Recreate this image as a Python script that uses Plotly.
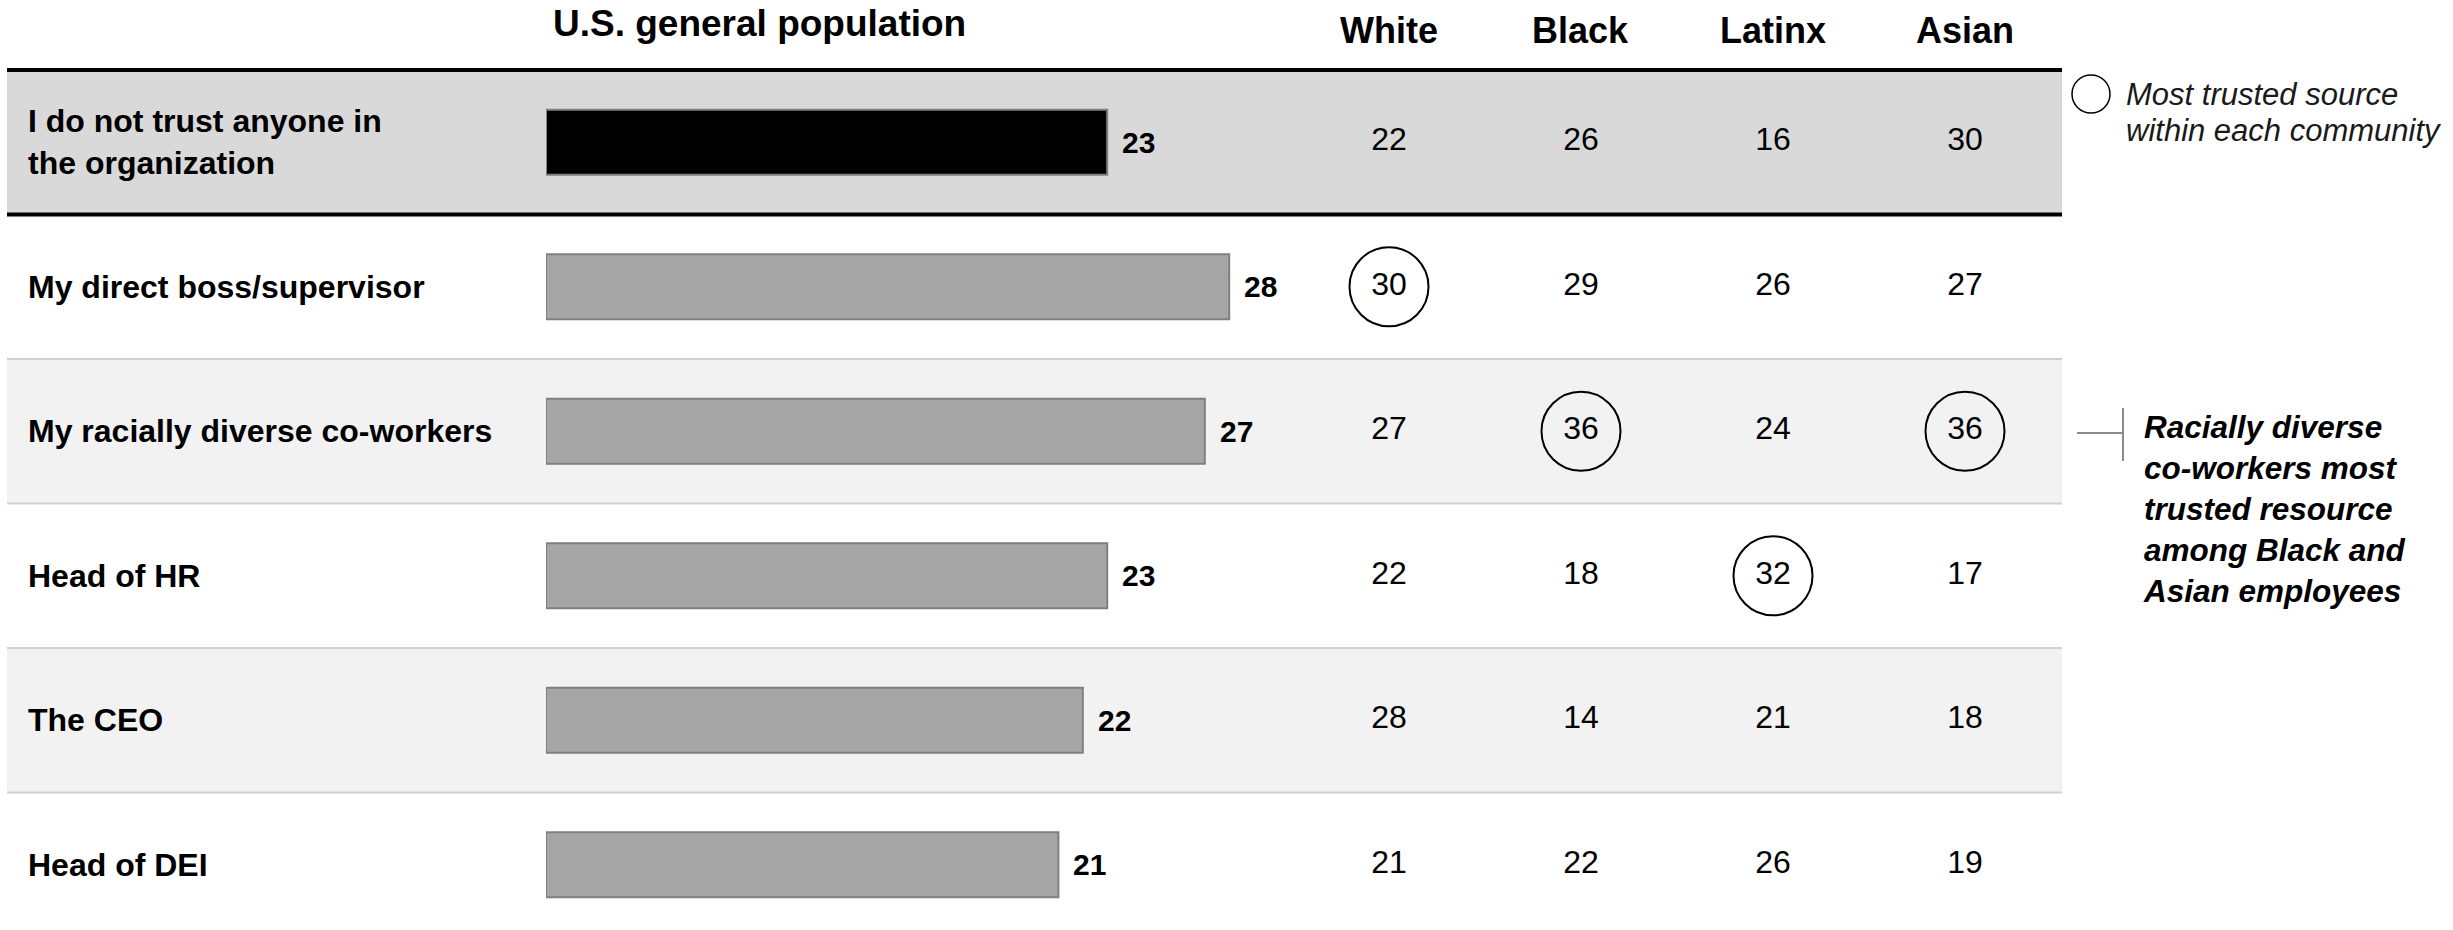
import plotly.graph_objects as go

# ---- data -------------------------------------------------------------
sources = [
    "I do not trust anyone in<br>the organization",
    "My direct boss/supervisor",
    "My racially diverse co-workers",
    "Head of HR",
    "The CEO",
    "Head of DEI",
]
general_population = [23, 28, 27, 23, 22, 21]

groups = ["White", "Black", "Latinx", "Asian"]
white = [22, 30, 27, 22, 28, 21]
black = [26, 29, 36, 18, 14, 22]
latinx = [16, 26, 24, 32, 21, 26]
asian = [30, 27, 36, 17, 18, 19]
group_values = [white, black, latinx, asian]

# ---- page geometry (pixels) --------------------------------------------
W, H = 2453, 930
ROW_TOP = 70          # top rule of the table
ROW_H = 144.5         # height of one row
TABLE_L, TABLE_R = 7, 2062
BAR_L, BAR_R = 546, 1290
PX_PER_UNIT = 24.4
COL_L, COL_R = 1293, 2061

FONT = "Arial, Liberation Sans, Helvetica, sans-serif"


def px_x(p):
    return p / W


def px_y(p):
    return 1 - p / H


n = len(sources)
rows = list(range(n))
y_top = -ROW_TOP / ROW_H - 0.5
y_bot = (H - ROW_TOP) / ROW_H - 0.5

fig = go.Figure()

# general-population bars
bar_colors = ["#000000"] + ["#a6a6a6"] * (n - 1)
fig.add_trace(go.Bar(
    x=general_population, y=rows, orientation="h",
    width=0.45,
    marker=dict(color=bar_colors, line=dict(color="#7f7f7f", width=2)),
    xaxis="x", yaxis="y", hoverinfo="skip", showlegend=False,
))

# per-community values
cell_x, cell_y, cell_t = [], [], []
for g, vals in zip(groups, group_values):
    for r, v in enumerate(vals):
        cell_x.append(g)
        cell_y.append(r)
        cell_t.append(str(v))
fig.add_trace(go.Scatter(
    x=cell_x, y=cell_y, text=cell_t, mode="text",
    textfont=dict(family=FONT, size=32, color="#000000"),
    xaxis="x2", yaxis="y", hoverinfo="skip", showlegend=False,
))

# ring round the most trusted source of each community (named sources only)
ring_x, ring_y = [], []
for g, vals in zip(groups, group_values):
    best = max(vals[1:])
    ring_x.append(g)
    ring_y.append(vals.index(best, 1))
fig.add_trace(go.Scatter(
    x=ring_x, y=ring_y, mode="markers",
    marker=dict(symbol="circle-open", size=79, color="#000000",
                line=dict(width=2, color="#000000")),
    xaxis="x2", yaxis="y", hoverinfo="skip", showlegend=False,
))

shapes = []
# row shading
for r in rows:
    fill = "#d9d9d9" if r == 0 else ("#f2f2f2" if r % 2 == 0 else None)
    if fill:
        shapes.append(dict(type="rect", xref="paper", yref="y",
                           x0=px_x(TABLE_L), x1=px_x(TABLE_R),
                           y0=r - 0.5, y1=r + 0.5,
                           fillcolor=fill, line=dict(width=0), layer="below"))
# thin separators
for r in range(1, n - 1):
    shapes.append(dict(type="line", xref="paper", yref="y",
                       x0=px_x(TABLE_L), x1=px_x(TABLE_R),
                       y0=r + 0.5, y1=r + 0.5,
                       line=dict(color="#d0d0d0", width=2), layer="below"))
# heavy rules around the first row
for yy in (-0.5, 0.5):
    shapes.append(dict(type="line", xref="paper", yref="y",
                       x0=px_x(TABLE_L), x1=px_x(TABLE_R),
                       y0=yy, y1=yy,
                       line=dict(color="#000000", width=4)))
# legend ring
shapes.append(dict(type="circle", xref="paper", yref="paper",
                   xsizemode="pixel", ysizemode="pixel",
                   xanchor=px_x(2091), yanchor=px_y(94),
                   x0=-19, x1=19, y0=-19, y1=19,
                   line=dict(color="#000000", width=1.5)))
# callout bracket
shapes.append(dict(type="line", xref="paper", yref="paper",
                   x0=px_x(2077), x1=px_x(2123), y0=px_y(433), y1=px_y(433),
                   line=dict(color="#8c8c8c", width=2)))
shapes.append(dict(type="line", xref="paper", yref="paper",
                   x0=px_x(2123), x1=px_x(2123), y0=px_y(408), y1=px_y(461),
                   line=dict(color="#8c8c8c", width=2)))

ann = []
# row labels
for r, s in enumerate(sources):
    ann.append(dict(text=f"<b>{s}</b>", xref="paper", yref="y",
                    x=px_x(26), y=r, xanchor="left", yanchor="middle",
                    align="left", showarrow=False,
                    font=dict(family=FONT, size=32, color="#000000")))
# bar value labels
for r, v in enumerate(general_population):
    ann.append(dict(text=f"<b>{v}</b>", xref="x", yref="y",
                    x=v, y=r, xanchor="left", yanchor="middle", xshift=13,
                    showarrow=False,
                    font=dict(family=FONT, size=30, color="#000000")))
# headers
ann.append(dict(text="<b>U.S. general population</b>", xref="paper", yref="paper",
                x=px_x(551), y=px_y(24), xanchor="left", yanchor="middle",
                showarrow=False, font=dict(family=FONT, size=37, color="#000000")))
for g in groups:
    ann.append(dict(text=f"<b>{g}</b>", xref="x2", yref="paper",
                    x=g, y=px_y(31), xanchor="center", yanchor="middle",
                    showarrow=False, font=dict(family=FONT, size=36, color="#000000")))
# legend text
for txt, yy in (("Most trusted source", 94), ("within each community", 130)):
    ann.append(dict(text=f"<i>{txt}</i>", xref="paper", yref="paper",
                    x=px_x(2124), y=px_y(yy), xanchor="left", yanchor="middle",
                    showarrow=False, font=dict(family=FONT, size=31, color="#1a1a1a")))
# callout text
ann.append(dict(
    text="<b><i>Racially diverse<br>co-workers most<br>trusted resource<br>"
         "among Black and<br>Asian employees</i></b>",
    xref="paper", yref="paper", x=px_x(2141), y=px_y(509),
    xanchor="left", yanchor="middle", align="left", showarrow=False,
    font=dict(family=FONT, size=31.5, color="#000000")))

fig.update_layout(
    width=W, height=H,
    margin=dict(l=0, r=0, t=0, b=0),
    paper_bgcolor="#ffffff", plot_bgcolor="rgba(0,0,0,0)",
    barmode="overlay",
    xaxis=dict(domain=[px_x(BAR_L), px_x(BAR_R)],
               range=[0, (BAR_R - BAR_L) / PX_PER_UNIT],
               visible=False, fixedrange=True),
    xaxis2=dict(domain=[px_x(COL_L), px_x(COL_R)], anchor="y",
                type="category", categoryorder="array", categoryarray=groups,
                range=[-0.5, len(groups) - 0.5],
                visible=False, fixedrange=True),
    yaxis=dict(domain=[0, 1], range=[y_bot, y_top], visible=False,
               fixedrange=True),
    shapes=shapes,
    annotations=ann,
    showlegend=False,
)

fig.write_html("out.html")
